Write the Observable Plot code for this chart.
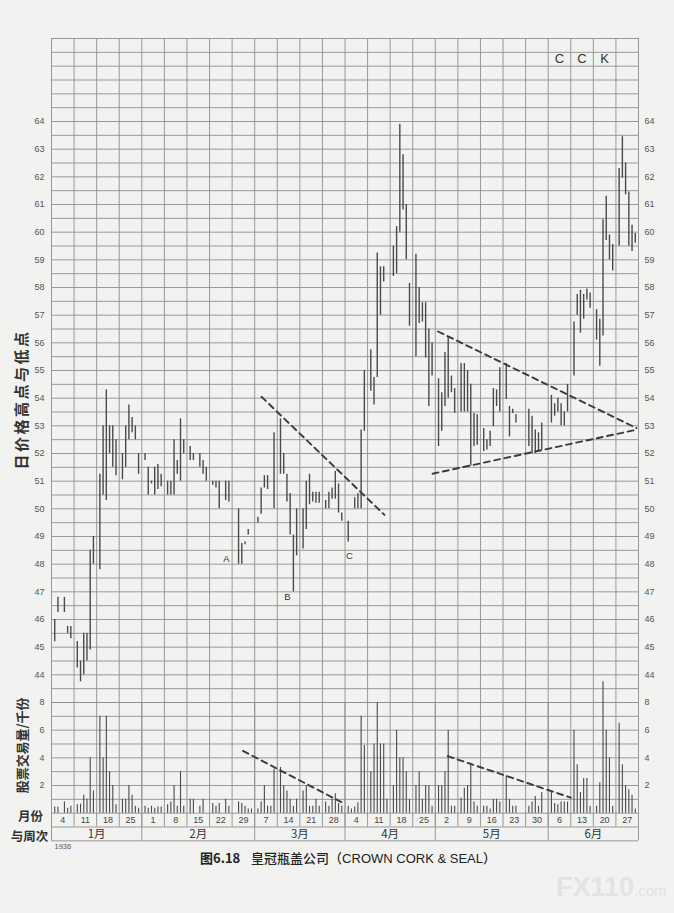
<!DOCTYPE html>
<html><head><meta charset="utf-8">
<script src="https://cdn.jsdelivr.net/npm/d3@7"></script>
<script src="https://cdn.jsdelivr.net/npm/@observablehq/plot@0.6"></script>
<style>
html,body{margin:0;padding:0;background:#f2f2f0;}
body{width:674px;height:913px;position:relative;overflow:hidden;font-family:"Liberation Sans",Arial,"Noto Sans CJK SC",sans-serif;}
#chart svg{display:block;}
#caption{position:absolute;left:200px;top:849px;font-size:13px;color:#222;white-space:nowrap;font-family:"Liberation Sans","Noto Sans CJK SC",sans-serif;line-height:18px;}
#caption b{font-family:"Noto Sans CJK SC";font-weight:700;}
#caption .cn{font-family:"Noto Sans CJK SC";font-weight:500;}
#wm{position:absolute;left:556px;top:872px;color:#e3e3e3;font:bold 27px "Liberation Sans",sans-serif;white-space:nowrap;}
</style></head><body>
<div id="chart"></div>
<div id="caption"><b>图6.18</b>&nbsp;&nbsp;&nbsp;<span class="cn">皇冠瓶盖公司（</span>CROWN CORK &amp; SEAL<span class="cn">）</span></div>
<div id="wm">FX110<span style="font-size:15px;font-weight:normal">.com</span></div>
<script>
// ---- data ----
const weekLabels = [4,11,18,25,1,8,15,22,29,7,14,21,28,4,11,18,25,2,9,16,23,30,6,13,20,27];
const monthNames = ["1月","2月","3月","4月","5月","6月"];
const weeksPerMonth = [4,5,4,4,5,4];
const priceTicks = [44,45,46,47,48,49,50,51,52,53,54,55,56,57,58,59,60,61,62,63,64];
const volumeTicks = [2,4,6,8];
// daily lows / highs per week (Mon..Sat), null = no bar
const dailyLow = [
 [45.2,46.25,null,46.25,45.5,45.3],
 [44.25,43.75,44.0,44.5,44.9,48.0],
 [47.8,50.5,50.3,52.0,51.5,51.2],
 [51.05,51.5,52.5,52.75,52.5,51.25],
 [51.75,50.5,50.9,50.5,50.7,50.8],
 [50.5,50.5,50.5,51.25,51.0,52.0],
 [51.75,51.75,null,51.5,51.25,51.0],
 [50.85,50.75,50.0,null,50.3,50.25],
 [null,48.0,48.0,48.7,49.05,null],
 [49.5,49.8,50.75,50.7,null,50.0],
 [51.25,51.25,50.25,49.05,47.0,48.3],
 [48.55,49.25,50.15,50.25,50.2,50.2],
 [50.0,50.0,50.35,50.35,49.85,49.55],
 [48.8,null,50.0,50.0,50.0,52.8],
 [54.25,53.75,54.75,57.0,58.2,null],
 [58.4,58.5,60.0,60.8,59.0,56.6],
 [55.5,56.7,56.75,55.45,53.7,54.8],
 [52.25,52.8,53.7,54.0,54.2,53.45],
 [53.5,53.5,53.5,51.55,52.25,52.3],
 [52.07,52.13,52.25,52.97,53.7,53.5],
 [53.95,52.6,53.45,53.1,null,null],
 [52.25,52.0,52.0,52.07,52.13,null],
 [53.1,53.35,53.5,53.0,53.0,53.5],
 [54.8,57.0,56.35,56.85,57.55,57.25],
 [56.1,55.15,56.25,59.7,59.0,58.6],
 [59.5,61.95,61.35,59.5,59.3,59.6]
];
const dailyHigh = [
 [46.0,46.8,null,46.8,45.75,45.75],
 [45.2,44.5,45.5,45.5,48.5,49.0],
 [51.25,53.0,54.3,53.0,53.0,52.5],
 [52.0,53.0,53.75,53.3,53.0,52.0],
 [52.0,51.5,51.0,51.5,51.6,51.25],
 [51.0,51.0,52.5,51.75,53.25,52.5],
 [52.25,52.0,null,52.0,51.75,51.5],
 [51.0,51.0,51.0,null,51.0,51.0],
 [null,50.0,48.75,48.8,49.25,null],
 [49.7,50.75,51.2,51.2,null,52.75],
 [53.25,52.0,51.25,50.55,49.05,50.0],
 [50.0,51.0,51.25,50.6,50.6,50.6],
 [50.3,50.6,50.75,51.35,50.9,49.85],
 [49.55,null,50.4,50.55,52.85,55.0],
 [55.75,54.75,59.25,58.75,58.75,null],
 [59.5,60.2,63.9,62.8,61.0,58.15],
 [59.2,58.0,57.45,57.45,56.5,56.0],
 [54.7,54.2,55.65,56.2,54.8,54.35],
 [55.25,55.25,55.0,54.5,53.45,53.4],
 [52.9,52.5,52.8,54.35,54.3,55.1],
 [55.25,53.7,53.6,53.4,null,null],
 [53.6,53.35,52.85,52.75,53.1,null],
 [54.1,53.8,54.0,53.8,53.5,54.5],
 [56.75,57.75,57.9,57.75,57.95,57.8],
 [57.2,56.85,60.45,61.3,59.9,59.55],
 [62.3,63.45,62.5,61.45,60.25,59.95]
];
// daily volume, thousands of shares
const dailyVolume = [
 [0.45,0.45,null,0.8,0.35,0.5],
 [0.6,0.65,1.3,1.0,4.0,1.6],
 [7.0,4.0,7.0,3.0,2.0,0.6],
 [1.0,1.0,2.0,1.3,0.5,0.35],
 [0.5,0.35,0.5,0.35,0.45,0.45],
 [0.6,0.8,2.0,0.5,3.0,0.5],
 [1.0,1.0,null,0.5,1.0,null],
 [0.7,0.5,0.7,null,1.0,0.5],
 [null,0.8,0.7,0.5,0.3,0.3],
 [0.3,0.8,2.0,0.5,0.5,3.2],
 [3.3,2.0,1.6,1.0,0.5,1.0],
 [1.6,2.0,0.5,0.5,1.0,0.5],
 [0.8,0.5,1.0,1.4,0.7,0.5],
 [0.5,0.3,0.45,0.75,7.0,4.9],
 [3.0,5.0,8.0,5.0,5.0,1.0],
 [2.0,6.0,4.0,4.0,3.0,1.0],
 [2.0,3.0,1.0,2.0,2.0,0.5],
 [2.0,2.0,3.0,6.0,0.5,0.5],
 [1.1,1.8,2.0,3.6,0.8,0.5],
 [0.5,0.5,0.3,1.0,1.0,0.8],
 [2.7,1.0,0.5,0.5,null,null],
 [0.5,0.8,1.2,0.5,1.5,null],
 [1.5,0.7,0.6,0.8,0.8,0.8],
 [6.0,3.5,1.5,2.5,2.5,0.5],
 [0.5,2.2,9.5,6.0,4.0,0.5],
 [6.5,3.5,2.0,1.7,1.3,0.3]
];
// trend lines: [[week, value], [week, value]]
const priceTrendLines = [
 [[9.3,54.05],[14.75,49.78]],
 [[17.12,56.41],[25.91,52.92]],
 [[16.88,51.27],[25.91,52.86]]
];
const volumeTrendLines = [
 [[8.48,4.5],[12.98,0.68]],
 [[17.55,4.12],[23.0,1.12]]
];
const swingLabels = ["A","B","C"];
const swingWeek = [7.75,10.45,13.2];
const swingPrice = [48.2,46.8,48.3];
const tickerLetters = ["C","C","K"];
const tickerWeek = [22,23,24];

// ---- build tables ----
const bars = [], vols = [];
dailyLow.forEach((wk, w) => wk.forEach((lo, k) => {
  if (lo != null) bars.push({x: w + (k + 1) / 7, low: lo, high: dailyHigh[w][k]});
}));
dailyVolume.forEach((wk, w) => wk.forEach((v, k) => {
  if (v != null) vols.push({x: w + (k + 1) / 7, v});
}));
const toLines = (arr) => arr.flatMap((seg, i) => seg.map(([x, y]) => ({id: i, x, y})));
const monthStart = d3.cumsum([0, ...weeksPerMonth]);
const months = monthNames.map((m, i) => ({m, x: (monthStart[i] + monthStart[i + 1]) / 2}));
const weeks = d3.range(26).map(i => ({i, label: weekLabels[i]}));

const GRID = "#8e8e8e", INK = "#4a4a4a";
const W = 674, ML = 51, MR = 36;
const unit = 664 / 24; // px per dollar

const common = {
  width: W, marginLeft: ML, marginRight: MR,
  x: {domain: [0, 26], axis: null},
  style: {background: "transparent", overflow: "visible", color: "#555",
          fontFamily: "Liberation Sans, Arial, sans-serif"}
};
const cjk = {fontWeight: "bold", fill: "#333", fontFamily: "Noto Sans CJK SC", textAnchor: "middle"};

const price = Plot.plot({
  ...common,
  height: 38 + 664, marginTop: 38, marginBottom: 0,
  y: {domain: [43, 67], axis: null, label: null},
  marks: [
    Plot.ruleY(d3.range(43, 67.001, 0.5), {stroke: GRID, strokeWidth: 0.9}),
    Plot.ruleX(d3.range(0, 27), {stroke: GRID, strokeWidth: 0.9}),
    Plot.ruleX(bars, {x: "x", y1: "low", y2: "high", stroke: INK, strokeWidth: 1.4}),
    Plot.line(toLines(priceTrendLines), {x: "x", y: "y", z: "id", stroke: "#3a3a3a",
      strokeWidth: 1.9, strokeDasharray: "6,4.5"}),
    Plot.axisY(priceTicks, {anchor: "left", tickSize: 0, tickPadding: 7, fontSize: 9, label: null}),
    Plot.axisY(priceTicks, {anchor: "right", tickSize: 0, tickPadding: 6, fontSize: 9, label: null}),
    Plot.text(swingLabels, {x: (d, i) => swingWeek[i], y: (d, i) => swingPrice[i], text: d => d,
      fontSize: 9.5, fill: "#333"}),
    Plot.text(tickerLetters, {x: (d, i) => tickerWeek[i] + 0.5, y: 66.25, text: d => d,
      fontSize: 13, fill: "#333"}),
    Plot.text(["日价格高点与低点"], {...cjk, frameAnchor: "left", y: 53.95, dx: -29, rotate: -90,
      text: d => d, fontSize: 15})
  ]
});

const volume = Plot.plot({
  ...common,
  height: 10 * unit / 2 + 12, marginTop: 0, marginBottom: 12,
  y: {domain: [-2, 8], axis: null, label: null},
  marks: [
    Plot.ruleY(d3.range(0, 9), {stroke: GRID, strokeWidth: 0.9}),
    Plot.ruleY([-1, -2], {stroke: GRID, strokeWidth: 0.9}),
    Plot.ruleX(d3.range(1, 26), {y1: -1, y2: 8, stroke: GRID, strokeWidth: 0.9}),
    Plot.ruleX(monthStart, {y1: -2, y2: 8, stroke: GRID, strokeWidth: 0.9}),
    Plot.ruleX(vols, {x: "x", y1: 0, y2: "v", stroke: INK, strokeWidth: 1.1}),
    Plot.line(toLines(volumeTrendLines), {x: "x", y: "y", z: "id", stroke: "#3a3a3a",
      strokeWidth: 1.9, strokeDasharray: "6,4.5"}),
    Plot.axisY(volumeTicks, {anchor: "left", tickSize: 0, tickPadding: 7, fontSize: 9, label: null}),
    Plot.axisY(volumeTicks, {anchor: "right", tickSize: 0, tickPadding: 6, fontSize: 9, label: null}),
    Plot.text(weeks, {x: d => d.i + 0.5, y: -0.5, text: "label", fontSize: 9, fill: "#444"}),
    Plot.text(months, {x: "x", y: -1.5, text: "m", fontSize: 11.5, fill: "#333",
      fontFamily: "Noto Sans CJK SC"}),
    Plot.text(["1936"], {x: 0, y: -2.45, dx: 3, textAnchor: "start", text: d => d, fontSize: 7.5, fill: "#555"}),
    Plot.text(["月份"], {...cjk, frameAnchor: "left", y: -0.3, dx: -21, text: d => d, fontSize: 12.5}),
    Plot.text(["与周次"], {...cjk, frameAnchor: "left", y: -1.7, dx: -22, text: d => d, fontSize: 12.5}),
    Plot.text(["股票交易量/千份"], {...cjk, frameAnchor: "left", y: 4.9, dx: -29, rotate: -90,
      text: d => d, fontSize: 13})
  ]
});

document.getElementById("chart").append(price, volume);
d3.select(price).selectAll("text")
  .filter(function() { return this.textContent === "日价格高点与低点"; })
  .style("letter-spacing", "2.5px");
</script>
</body></html>
